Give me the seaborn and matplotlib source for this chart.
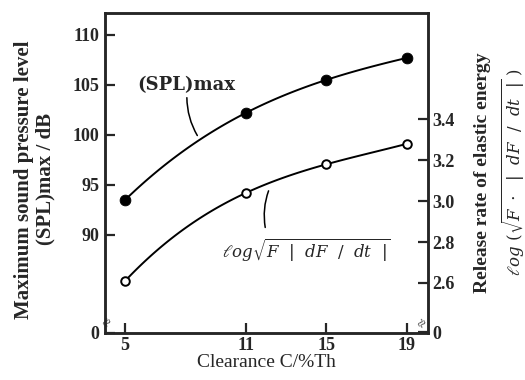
import numpy as np
import matplotlib
matplotlib.use("Agg")
import matplotlib.pyplot as plt
import seaborn as sns

# data
clearance = [5, 11, 15, 19]
spl_max = [93.5, 102.2, 105.5, 107.7]
release_rate = [2.61, 3.04, 3.18, 3.28]

left_ticks = [80.2, 90, 95, 100, 105, 110]
left_labels = ["0", "90", "95", "100", "105", "110"]
right_ticks = [2.36, 2.6, 2.8, 3.0, 3.2, 3.4]
right_labels = ["0", "2.6", "2.8", "3.0", "3.2", "3.4"]

sns.set_style("ticks")
plt.rcParams["font.family"] = ["Liberation Serif", "DejaVu Serif"]
plt.rcParams["mathtext.fontset"] = "dejavuserif"

fig = plt.figure(figsize=(5.25, 3.8), dpi=100)
ax = fig.add_axes([0.2, 0.124, 0.615, 0.842])
ax2 = ax.twinx()

# (SPL)max curve, filled markers
sns.regplot(x=clearance, y=spl_max, ax=ax, order=3, ci=None, scatter=False,
            color="black", line_kws={"lw": 1.4})
sns.scatterplot(x=clearance, y=spl_max, ax=ax, color="black", s=60,
                edgecolor="black", zorder=5)

# release-rate curve, open markers
sns.regplot(x=clearance, y=release_rate, ax=ax2, order=3, ci=None, scatter=False,
            color="black", line_kws={"lw": 1.4})
sns.scatterplot(x=clearance, y=release_rate, ax=ax2, facecolor="white",
                edgecolor="black", linewidth=1.4, s=38, zorder=5)

ax.set_xlim(4, 20.05)
ax.set_ylim(80.2, 112.2)
ax2.set_ylim(2.356, 3.92)

ax.set_xticks(clearance)
ax.set_yticks(left_ticks)
ax.set_yticklabels(left_labels)
ax2.set_yticks(right_ticks)
ax2.set_yticklabels(right_labels)

for a in (ax, ax2):
    for s in a.spines.values():
        s.set_linewidth(1.8)
        s.set_visible(True)
    a.tick_params(direction="in", length=7, width=1.6, labelsize=13)
    for lab in a.get_xticklabels() + a.get_yticklabels():
        lab.set_fontweight("bold")
ax.tick_params(axis="y", pad=4)
ax.tick_params(axis="x", pad=3)
ax2.tick_params(axis="y", pad=3)

ax.set_xlabel("Clearance C/%Th", fontsize=14, labelpad=0)
ax.set_ylabel("Maximum sound pressure level\n(SPL)max / dB", fontsize=15,
              fontweight="bold", linespacing=1.15)
ax.yaxis.set_label_coords(-0.152, 0.48)
ax2.set_ylabel("Release rate of elastic energy", fontsize=14, fontweight="bold")
ax2.yaxis.set_label_coords(1.142, 0.5)
fig.text(513 / 525, 1 - 172 / 380,
         r"$\ell og\ (\sqrt{F\ \cdot\ \ |\ \ dF\ \ /\ \ dt\ \ |}\ )$",
         fontsize=12, rotation=90, ha="center", va="center")

# curve labels with leader lines
ax.text(5.6, 105.0, "(SPL)max", fontsize=13, fontweight="bold",
        va="center", ha="left", family="DejaVu Serif")
ax.annotate("", xy=(8.66, 99.7), xytext=(8.07, 104.0),
            arrowprops=dict(arrowstyle="-", lw=1.1, color="black",
                            connectionstyle="arc3,rad=0.15"))
ax2.text(9.8, 2.76, r"$\ell og\sqrt{F\ \ |\ \ dF\ \ /\ \ dt\ \ |}$",
         fontsize=12, va="center", ha="left")
ax2.annotate("", xy=(12.18, 3.063), xytext=(11.99, 2.858),
             arrowprops=dict(arrowstyle="-", lw=1.1, color="black",
                             connectionstyle="arc3,rad=-0.15"))

# small break marks at the bottom corners
ax.text(4.2, 81.2, "≈", fontsize=11, rotation=60, ha="center", va="center")
ax2.text(19.85, 2.40, "≈", fontsize=11, rotation=60, ha="center", va="center")

fig.savefig("out.png", dpi=100)
